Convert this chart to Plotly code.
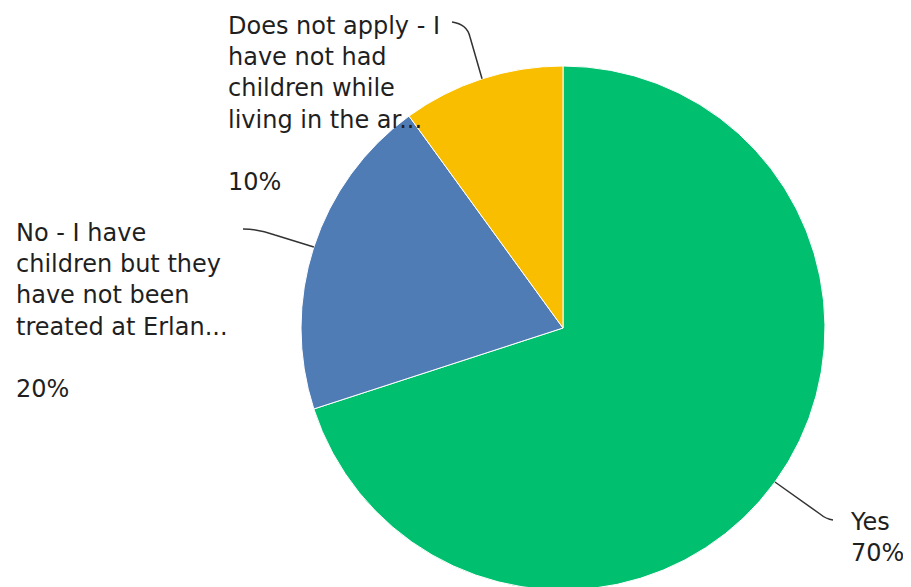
import math
import plotly.graph_objects as go

labels = ["Yes",
          "No - I have children but they have not been treated at Erlanger",
          "Does not apply - I have not had children while living in the area"]
values = [70, 20, 10]
colors = ["#00BF6F", "#507CB6", "#F9BE00"]
label_lines = [["Yes"],
               ["No - I have", "children but they", "have not been", "treated at Erlan..."],
               ["Does not apply - I", "have not had", "children while", "living in the ar..."]]
pct_text = ["70%", "20%", "10%"]

W, H = 911, 587
OFF = 8  # page body margin in the browser
CX, CY, R = 563, 328, 262  # pie centre / radius in window pixels

def px(x):
    return (x - OFF) / W

def py(y):
    return 1 - (y - OFF) / H

fig = go.Figure()
fig.add_trace(go.Pie(
    labels=labels, values=values, sort=False, direction="clockwise", rotation=0,
    marker=dict(colors=colors, line=dict(color="white", width=1)),
    textinfo="none", hoverinfo="label+percent", showlegend=False,
    domain=dict(x=[px(CX - R), px(CX + R)], y=[py(CY + R), py(CY - R)]),
))

label_pos = [(848, 537), (14, 310.5), (226, 103.75)]
font = dict(family="DejaVu Sans", size=24, color="#1f1f1f")

annotations = []
shapes = []
total = sum(values)
cum = 0
for i, v in enumerate(values):
    mid = (cum + v / 2) / total * 2 * math.pi
    cum += v
    ex = CX + R * math.sin(mid)
    ey = CY - R * math.cos(mid)
    if len(label_lines[i]) > 1:
        text = "<br>".join(label_lines[i]) + "<br><br>" + pct_text[i]
    else:
        text = label_lines[i][0] + "<br>" + pct_text[i]
    lx, ly = label_pos[i]
    annotations.append(dict(text=text, x=px(lx), y=py(ly), xref="paper", yref="paper",
                            xanchor="left", yanchor="middle", align="left",
                            showarrow=False, font=font))
    if i == 0:
        path = "M {} {} L {} {} Q {} {} {} {}".format(
            px(ex), py(ey), px(820), py(514), px(826), py(519), px(833), py(520))
    elif i == 1:
        path = "M {} {} Q {} {} {} {} L {} {}".format(
            px(243), py(229), px(258), py(229), px(275), py(235), px(ex), py(ey))
    else:
        path = "M {} {} Q {} {} {} {} L {} {}".format(
            px(452), py(22), px(467), py(24), px(470), py(37), px(ex), py(ey))
    shapes.append(dict(type="path", path=path, xref="paper", yref="paper",
                       line=dict(color="#333333", width=1.5)))

fig.update_layout(width=W, height=H, margin=dict(l=0, r=0, t=0, b=0),
                  paper_bgcolor="white", plot_bgcolor="white",
                  annotations=annotations, shapes=shapes)
fig.write_html("out.html")
